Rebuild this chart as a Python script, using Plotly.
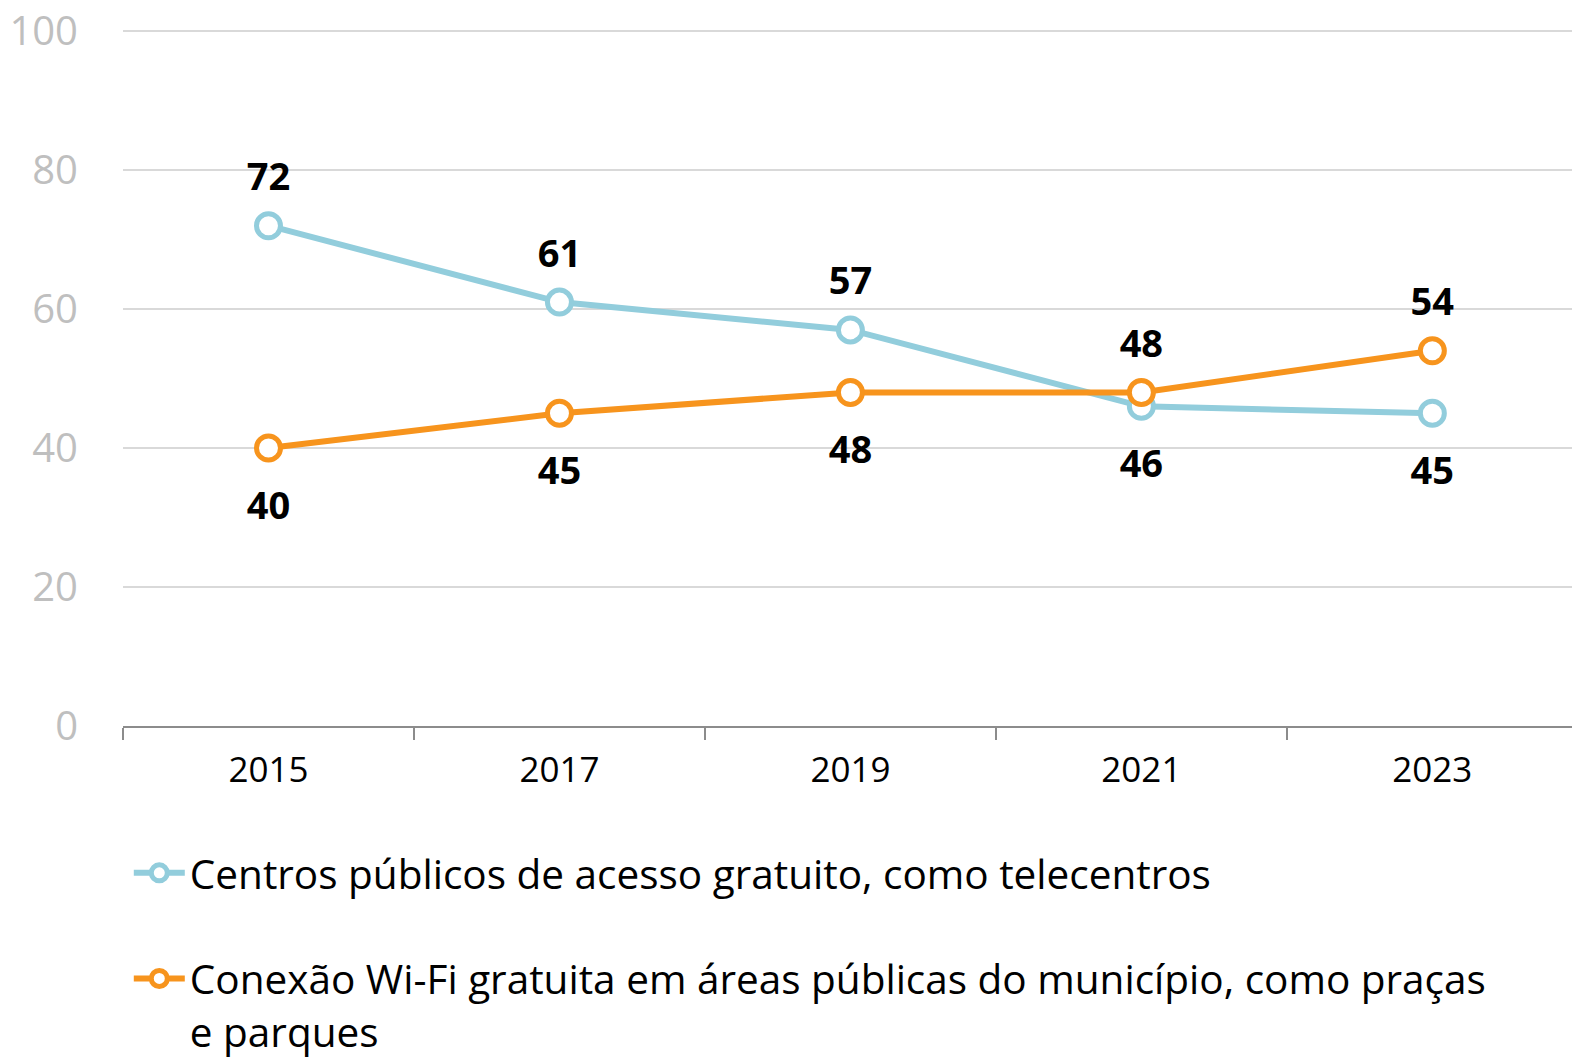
import plotly.graph_objects as go

years = ["2015", "2017", "2019", "2021", "2023"]
centros = [72, 61, 57, 46, 45]
wifi = [40, 45, 48, 48, 54]
centros_pos = ["top center", "top center", "top center", "bottom center", "bottom center"]
wifi_pos = ["bottom center", "bottom center", "bottom center", "top center", "top center"]
names = ["Centros públicos de acesso gratuito, como telecentros",
         "Conexão Wi-Fi gratuita em áreas públicas do município, como praças<br>e parques"]
y_ticks = [0, 20, 40, 60, 80, 100]

BLUE = "#92CDDC"
ORANGE = "#F7941D"
FONT = "Open Sans"

fig = go.Figure()
for vals, name, col, grp in [(centros, names[0], BLUE, "a"), (wifi, names[1], ORANGE, "b")]:
    fig.add_trace(go.Scatter(
        x=years, y=vals, name=name, mode="lines+markers", legendgroup=grp,
        line=dict(color=col, width=6),
        marker=dict(size=24, color="white", line=dict(color=col, width=5)),
        cliponaxis=False,
    ))

# data labels
for vals, pos in [(centros, centros_pos), (wifi, wifi_pos)]:
    fig.add_trace(go.Scatter(
        x=years, y=vals, mode="markers+text", showlegend=False, hoverinfo="skip",
        texttemplate="<b>%{y}</b>", textposition=pos,
        textfont=dict(family=FONT, size=38, color="black"),
        marker=dict(size=[40 if p.startswith("top") else 66 for p in pos],
                    color="rgba(0,0,0,0)", line=dict(width=0)),
        cliponaxis=False,
    ))

fig.update_layout(
    width=1572, height=1059,
    margin=dict(l=123, r=0, t=29, b=333, autoexpand=False),
    paper_bgcolor="white", plot_bgcolor="white",
    font=dict(family=FONT, color="black"),
    showlegend=True,
    legend=dict(orientation="v", x=0.004, xanchor="left", yref="container", y=0.2068, yanchor="top",
                font=dict(family=FONT, size=40.5, color="black"), valign="top",
                tracegroupgap=50, traceorder="grouped", itemwidth=51,
                bgcolor="rgba(0,0,0,0)"),
    xaxis=dict(type="category", range=[-0.5, 4.48], showgrid=False,
               showline=True, linecolor="#8c8c8c", linewidth=2,
               ticks="outside", tickson="boundaries", ticklen=12, tickwidth=2, tickcolor="#8c8c8c",
               ticklabelstandoff=12,
               tickfont=dict(family=FONT, size=35, color="black")),
    yaxis=dict(range=[0, 100.3], tickvals=y_ticks, showgrid=True, gridcolor="#d9d9d9", gridwidth=2,
               zeroline=False, showline=False, ticklabeloverflow="allow",
               ticks="outside", ticklen=36, tickcolor="rgba(0,0,0,0)",
               tickfont=dict(family=FONT, size=40, color="#bfbfbf")),
)

fig.write_html("out.html", config={"displayModeBar": False},
               post_script="document.body.style.margin='0';")
